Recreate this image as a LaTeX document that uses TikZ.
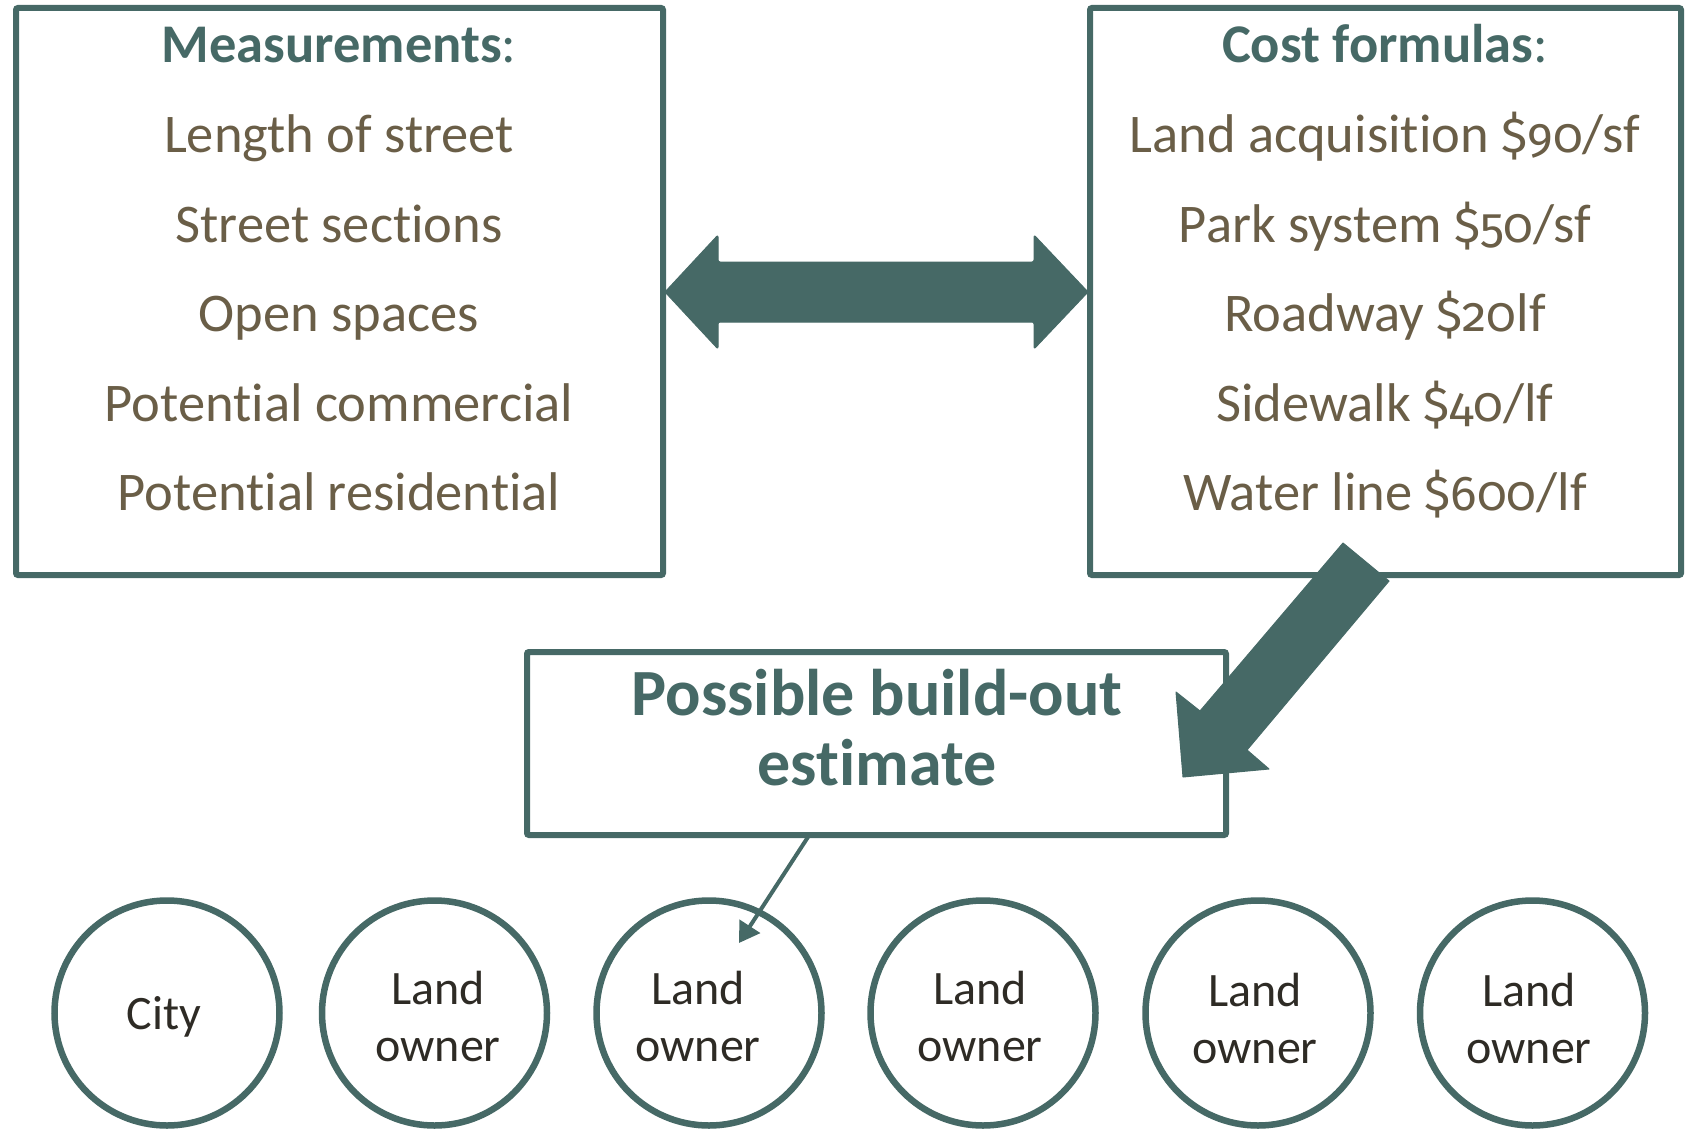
\documentclass[tikz,border=0pt]{standalone}
\usepackage{fontspec}
\setmainfont{Carlito}[Ligatures={NoCommon}]
\newfontfamily\osf{Fira Sans}[Numbers=OldStyle, Scale=0.9]
\usetikzlibrary{arrows.meta}
\definecolor{teal}{HTML}{466966}
\definecolor{brn}{HTML}{6A5E47}
\definecolor{dark}{HTML}{2E2B25}
\newcommand{\od}[1]{{\osf #1}}
\tikzset{
  boxline/.style={draw=teal, line width=6pt, rounded corners=2pt},
  item/.style={anchor=base, text=brn, font=\fontsize{54.5}{54.5}\selectfont, inner sep=0pt},
  head/.style={anchor=base, text=teal, font=\fontsize{54.5}{54.5}\selectfont, inner sep=0pt},
  party/.style={circle, draw=teal, line width=6.5pt, minimum size=225pt, inner sep=0pt},
  ptext/.style={anchor=base, text=dark, font=\fontsize{48}{48}\selectfont, inner sep=0pt},
  esttext/.style={anchor=base, text=teal, font=\fontsize{66}{66}\selectfont\bfseries, inner sep=0pt},
  blockarrow/.style={fill=teal, draw=teal, line width=1pt, line join=round},
}
\begin{document}
\begin{tikzpicture}[x=1pt, y=-1pt]
\useasboundingbox (0,0) rectangle (1693,1129);
% boxes
\draw[boxline] (16,8) rectangle (663,575);
\node[inner sep=0pt] (meas) at (339.5,291) {};
\draw[boxline] (1090,8) rectangle (1681,575);
\node[inner sep=0pt] (cost) at (1385.5,291) {};
\draw[boxline] (527,652) rectangle (1226,835);
\node[inner sep=0pt] (est) at (876.5,743) {};

% left texts
\node[head] (m0) at (339,63) {\textbf{Measurements}:};
\node[item] (m1) at (339,152) {Length of street};
\node[item] (m2) at (339,242) {Street sections};
\node[item] (m3) at (339,331) {Open spaces};
\node[item] (m4) at (339,421) {Potential commercial};
\node[item] (m5) at (339,510) {Potential residential};
% right texts
\node[head] (c0) at (1385,63) {\textbf{Cost formulas}:};
\node[item] (c1) at (1385,152) {Land acquisition \od{\$90}/sf};
\node[item] (c2) at (1385,242) {Park system \od{\$50}/sf};
\node[item] (c3) at (1385,331) {Roadway \od{\$20}lf};
\node[item] (c4) at (1385,421) {Sidewalk \od{\$40}/lf};
\node[item] (c5) at (1385,510) {Water line \od{\$600}/lf};
% middle text
\node[esttext] (e1) at (877,715) {Possible build-out};
\node[esttext] (e2) at (877,785) {estimate};

% double block arrow
\fill[blockarrow, rounded corners=2pt] (665,292) -- (718,235) -- (718,262) -- (1034,262) -- (1034,235)
  -- (1088,292) -- (1034,349) -- (1034,322) -- (718,322) -- (718,349) -- cycle;

% diagonal block arrow
\fill[blockarrow] (1343,543) -- (1389,581) -- (1247,750) -- (1269,769) -- (1183,777)
  -- (1176,692) -- (1200,711) -- cycle;

% circles
\node[party] (p1) at (167,1013) {};
\node[party] (p2) at (434.5,1013) {};
\node[party] (p3) at (709,1013) {};
\node[party] (p4) at (983,1013) {};
\node[party] (p5) at (1258,1013) {};
\node[party] (p6) at (1532.5,1013) {};
\node[ptext] at (164,1029) {City};
\node[ptext] at (438,1004) {Land};
\node[ptext] at (438,1061) {owner};
\node[ptext] at (698,1004) {Land};
\node[ptext] at (698,1061) {owner};
\node[ptext] at (980,1004) {Land};
\node[ptext] at (980,1061) {owner};
\node[ptext] at (1255,1006) {Land};
\node[ptext] at (1255,1063) {owner};
\node[ptext] at (1529,1006) {Land};
\node[ptext] at (1529,1063) {owner};

% small arrow
\coordinate (sa) at (808,837);
\coordinate (sb) at (739,943);
\draw[teal, line width=4pt, -{Triangle[length=20pt, width=24pt]}] (sa) -- (sb);
\end{tikzpicture}
\end{document}
